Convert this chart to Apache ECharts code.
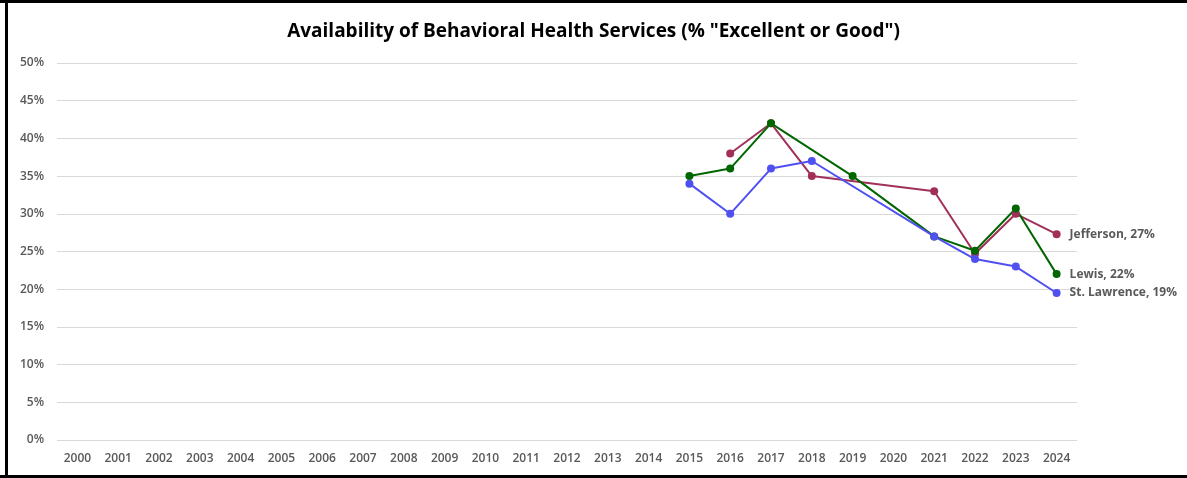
<!DOCTYPE html>
<html>
<head>
<meta charset="utf-8">
<script src="https://cdn.jsdelivr.net/npm/echarts@6/dist/echarts.min.js"></script>
<style>
html,body{margin:0;padding:0;background:#fff;}
#wrap{position:relative;width:1187px;height:478px;overflow:hidden;}
#chart{position:absolute;left:0;top:0;width:1187px;height:478px;}
.b{position:absolute;background:#000;}
</style>
</head>
<body>
<div id="wrap">
<div id="chart"></div>
<div class="b" style="left:0;top:0;width:1187px;height:3px;"></div>
<div class="b" style="left:5px;top:0;width:3px;height:478px;"></div>
<div class="b" style="left:0;top:475px;width:1187px;height:3px;"></div>
</div>
<script>
const years = ['2000','2001','2002','2003','2004','2005','2006','2007','2008','2009','2010','2011','2012','2013','2014','2015','2016','2017','2018','2019','2020','2021','2022','2023','2024'];
const jefferson = [null,null,null,null,null,null,null,null,null,null,null,null,null,null,null,null,38,42,35,null,null,33,24.7,30,27.3];
const lewis = [null,null,null,null,null,null,null,null,null,null,null,null,null,null,null,35,36,42,null,35,null,27,25.1,30.7,22];
const stLawrence = [null,null,null,null,null,null,null,null,null,null,null,null,null,null,null,34,30,36,37,null,null,27,24,23,19.5];
const seriesNames = ['Jefferson','Lewis','St. Lawrence'];
const endLabels = ['Jefferson, 27%','Lewis, 22%','St. Lawrence, 19%'];
const colors = ['#A0305A','#006600','#5050F0'];
const font = 'Open Sans, Liberation Sans, sans-serif';

const chart = echarts.init(document.getElementById('chart'));
const dataSets = [jefferson, lewis, stLawrence];
chart.setOption({
  animation:false,
  title:{text:'Availability of Behavioral Health Services (% "Excellent or Good")',left:'center',top:17,
    textStyle:{fontFamily:font,fontSize:19,fontWeight:'bold',color:'#000'}},
  grid:{left:57,right:110,top:63,bottom:38,containLabel:false},
  xAxis:{type:'category',data:years,boundaryGap:true,
    axisLine:{show:false},axisTick:{show:false},
    axisLabel:{color:'#595959',fontFamily:font,fontSize:12,fontWeight:600,margin:13,interval:0}},
  yAxis:{type:'value',min:0,max:50,interval:5,
    axisLine:{show:false},axisTick:{show:false},
    splitLine:{lineStyle:{color:'#d9d9d9',width:1}},
    axisLabel:{formatter:'{value}%',color:'#595959',fontFamily:font,fontSize:12,fontWeight:600,margin:13}},
  series: dataSets.map((d,i)=>({
    name:seriesNames[i],type:'line',data:d,connectNulls:true,
    symbol:'circle',symbolSize:8,
    lineStyle:{color:colors[i],width:2},
    itemStyle:{color:colors[i]},
    endLabel:{show:true,formatter:endLabels[i],color:'#595959',fontFamily:font,fontSize:12,fontWeight:'bold',distance:13}
  }))
});
</script>
</body>
</html>
